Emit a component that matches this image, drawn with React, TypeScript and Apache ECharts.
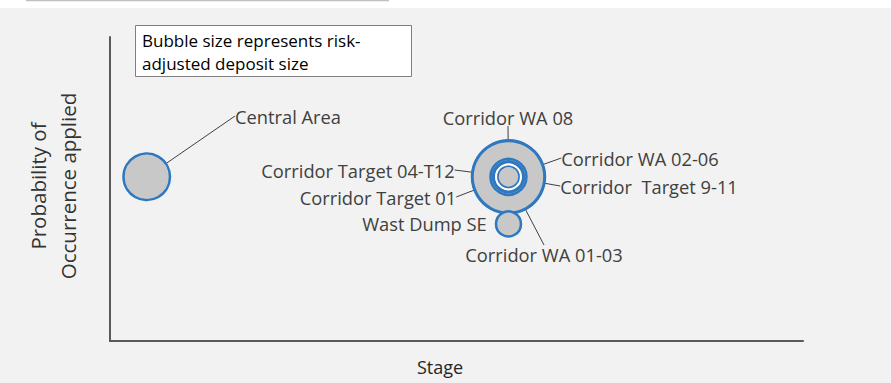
import React, { useEffect, useRef } from "react";
import * as echarts from "echarts";

// ---- data ----
const names = [
  "Corridor WA 01-03",
  "Corridor WA 02-06",
  "Corridor WA 08",
  "Corridor Target 04-T12",
  "Corridor Target 01",
  "Corridor  Target 9-11",
  "Wast Dump SE",
  "Central Area",
];
const stage = [5.75, 5.75, 5.75, 5.75, 5.75, 5.75, 5.75, 0.53];
const probability = [5.4, 5.4, 5.4, 5.4, 5.4, 5.4, 3.85, 5.4];
const depositSize = [100, 97, 24.3, 16.9, 11.7, 8.3, 11.7, 40.6];

const xAxisTitle = "Stage";
const yAxisTitle = "Probability of\nOccurrence applied";
const noteText = "Bubble size represents risk-\nadjusted deposit size";

// ---- layout (label centres, px) ----
const LABEL_POS: Record<number, [number, number]> = {
  0: [544, 254],
  1: [640, 158],
  2: [508, 117],
  3: [358, 170],
  4: [378, 197],
  5: [649, 186],
  7: [288, 116],
};

const FONT = "Open Sans";
const BLUE = "#2e78c0";

export default function App() {
  const ref = useRef<HTMLDivElement>(null);
  useEffect(() => {
    if (!ref.current) return;
    const chart = echarts.init(ref.current, null, { renderer: "svg" });
    const data = names.map((n, i) => {
      const item: any = { name: n, value: [stage[i], probability[i], depositSize[i]] };
      if (i === 3) item.itemStyle = { borderWidth: 3.5 };
      if (i === 4) item.itemStyle = { borderColor: "#ffffff", borderWidth: 2 };
      if (i === 5) item.itemStyle = { borderWidth: 1.6 };
      if (i === 6) {
        item.label = { position: "left", distance: 8, padding: 0 };
        item.labelLine = { show: false };
      }
      return item;
    });
    chart.setOption({
      animation: false,
      grid: { left: 110, top: 37, width: 693, height: 304 },
      xAxis: {
        type: "value",
        min: 0,
        max: 10,
        axisLine: { show: true, onZero: false, lineStyle: { color: "#595959", width: 2 } },
        axisTick: { show: false },
        axisLabel: { show: false },
        splitLine: { show: false },
      },
      yAxis: {
        type: "value",
        min: 0,
        max: 10,
        axisLine: { show: true, onZero: false, lineStyle: { color: "#595959", width: 2 } },
        axisTick: { show: false },
        axisLabel: { show: false },
        splitLine: { show: false },
      },
      graphic: [
        { type: "rect", z: -10, silent: true, shape: { x: 0, y: 8, width: 891, height: 375 }, style: { fill: "#f2f2f2" } },
        { type: "line", z: -10, silent: true, shape: { x1: 26, y1: 0.5, x2: 389, y2: 0.5 }, style: { stroke: "#bfbfbf", lineWidth: 1.5 } },
        { type: "rect", z: 10, shape: { x: 135.5, y: 25.5, width: 276, height: 51 }, style: { fill: "#ffffff", stroke: "#7f7f7f", lineWidth: 1 } },
        {
          type: "text", z: 11, x: 142, y: 52,
          style: { text: noteText, fontFamily: FONT, fontSize: 17, fill: "#000000", lineHeight: 23, verticalAlign: "middle", align: "left" },
        },
        {
          type: "text", x: 440, y: 367,
          style: { text: xAxisTitle, fontFamily: FONT, fontSize: 18, fill: "#262626", align: "center", verticalAlign: "middle" },
        },
        {
          type: "text", x: 53, y: 186, rotation: Math.PI / 2,
          style: { text: yAxisTitle, fontFamily: FONT, fontSize: 20.5, fill: "#333333", align: "center", verticalAlign: "middle", lineHeight: 30 },
        },
      ],
      series: [
        {
          type: "scatter",
          data,
          symbol: "circle",
          symbolSize: (v: number[]) => 7.3 * Math.sqrt(v[2]),
          itemStyle: { color: "#c8c8c8", borderColor: BLUE, borderWidth: 2.5, opacity: 1 },
          label: { show: true, formatter: "{b}", color: "#404040", fontSize: 18.3, fontFamily: FONT, padding: [3, 4] },
          labelLine: { show: true, lineStyle: { color: "#404040", width: 1 } },
          labelLayout: (p: any) => {
            const pos = LABEL_POS[p.dataIndex];
            return pos ? { x: pos[0], y: pos[1], align: "center", verticalAlign: "middle" } : {};
          },
          emphasis: { disabled: true },
        },
      ],
    });
    return () => chart.dispose();
  }, []);
  return <div ref={ref} style={{ position: "absolute", left: 0, top: 0, width: 891, height: 383 }} />;
}
